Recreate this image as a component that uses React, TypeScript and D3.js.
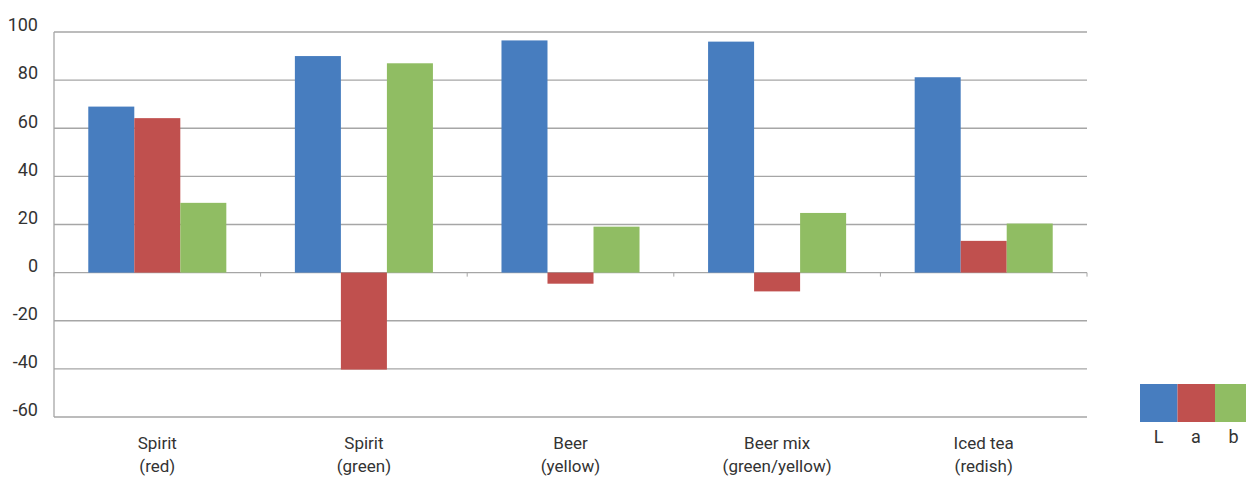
import React, { useEffect, useRef } from 'react';
import * as d3 from 'd3';

const categories = [
  ['Spirit', '(red)'],
  ['Spirit', '(green)'],
  ['Beer', '(yellow)'],
  ['Beer mix', '(green/yellow)'],
  ['Iced tea', '(redish)'],
];
const seriesNames = ['L', 'a', 'b'];
const valuesL = [69, 90, 96.5, 96, 81.2];
const valuesA = [64.2, -40.3, -4.6, -7.8, 13.2];
const valuesB = [29, 87, 19.1, 24.8, 20.4];
const yTicks = [100, 80, 60, 40, 20, 0, -20, -40, -60];
const colors = ['#477dbf', '#c0504e', '#90bd63'];

const W = 1246;
const H = 479;
const FONT = '"Liberation Sans Narrow", Roboto, sans-serif';

export default function App() {
  const svgRef = useRef<SVGSVGElement>(null);

  useEffect(() => {
    document.body.style.margin = '0';
    if (!svgRef.current) return;
    const svg = d3.select(svgRef.current);
    svg.selectAll('*').remove();

    const margin = { top: 32, right: 159, bottom: 62, left: 54 };
    const plotRight = W - margin.right;
    const plotBottom = H - margin.bottom;

    const keys = categories.map((c) => c.join(' '));
    const series = [valuesL, valuesA, valuesB];

    const x0 = d3.scaleBand().domain(keys).range([margin.left, plotRight]).padding(0);
    const x1 = d3.scaleBand().domain(seriesNames)
      .range([0, x0.bandwidth()])
      .paddingInner(0)
      .paddingOuter(0.745);
    const y = d3.scaleLinear().domain([-60, 100]).range([plotBottom, margin.top]);

    // gridlines
    svg.append('g')
      .selectAll('line')
      .data(yTicks)
      .join('line')
      .attr('x1', margin.left)
      .attr('x2', plotRight)
      .attr('y1', (d) => y(d))
      .attr('y2', (d) => y(d))
      .attr('stroke', '#a6a6a6')
      .attr('stroke-width', 1.3);

    // left axis line
    svg.append('line')
      .attr('x1', margin.left).attr('x2', margin.left)
      .attr('y1', margin.top).attr('y2', plotBottom)
      .attr('stroke', '#a6a6a6').attr('stroke-width', 1.3);

    // small category ticks on zero line
    svg.append('g')
      .selectAll('line')
      .data(d3.range(keys.length + 1))
      .join('line')
      .attr('x1', (i) => margin.left + i * x0.step())
      .attr('x2', (i) => margin.left + i * x0.step())
      .attr('y1', y(0))
      .attr('y2', y(0) + 4)
      .attr('stroke', '#a6a6a6');

    // y labels
    svg.append('g')
      .selectAll('text')
      .data(yTicks)
      .join('text')
      .attr('x', 38)
      .attr('y', (d) => y(d) - 7)
      .attr('dy', '0.35em')
      .attr('text-anchor', 'end')
      .attr('font-family', FONT)
      .attr('font-size', 18)
      .attr('fill', '#333')
      .text((d) => d);

    // bars
    const groups = svg.append('g')
      .selectAll('g')
      .data(keys)
      .join('g')
      .attr('transform', (k) => `translate(${x0(k)},0)`);

    groups.selectAll('rect')
      .data((_, i) => seriesNames.map((s, j) => ({ s, v: series[j][i], j })))
      .join('rect')
      .attr('x', (d) => x1(d.s) || 0)
      .attr('width', x1.bandwidth())
      .attr('y', (d) => y(Math.max(0, d.v)))
      .attr('height', (d) => Math.abs(y(d.v) - y(0)))
      .attr('fill', (d) => colors[d.j]);

    // category labels
    const lab = svg.append('g')
      .selectAll('text')
      .data(categories)
      .join('text')
      .attr('text-anchor', 'middle')
      .attr('font-family', FONT)
      .attr('font-size', 17)
      .attr('fill', '#333')
      .attr('transform', (_, i) => `translate(${(x0(keys[i]) || 0) + x0.bandwidth() / 2},449)`);
    lab.append('tspan').attr('x', 0).attr('y', 0).text((d) => d[0]);
    lab.append('tspan').attr('x', 0).attr('y', 23).text((d) => d[1]);

    // legend
    const lg = svg.append('g').attr('transform', 'translate(1140,384)');
    lg.selectAll('rect')
      .data(seriesNames)
      .join('rect')
      .attr('x', (_, i) => i * 37.5)
      .attr('y', 0)
      .attr('width', 37.5)
      .attr('height', 38)
      .attr('fill', (_, i) => colors[i]);
    lg.selectAll('text')
      .data(seriesNames)
      .join('text')
      .attr('x', (_, i) => i * 37.5 + 18.5)
      .attr('y', 59)
      .attr('text-anchor', 'middle')
      .attr('font-family', FONT)
      .attr('font-size', 18)
      .attr('fill', '#333')
      .text((d) => d);
  }, []);

  return <svg ref={svgRef} width={W} height={H} style={{ display: 'block', background: '#fff' }} />;
}
